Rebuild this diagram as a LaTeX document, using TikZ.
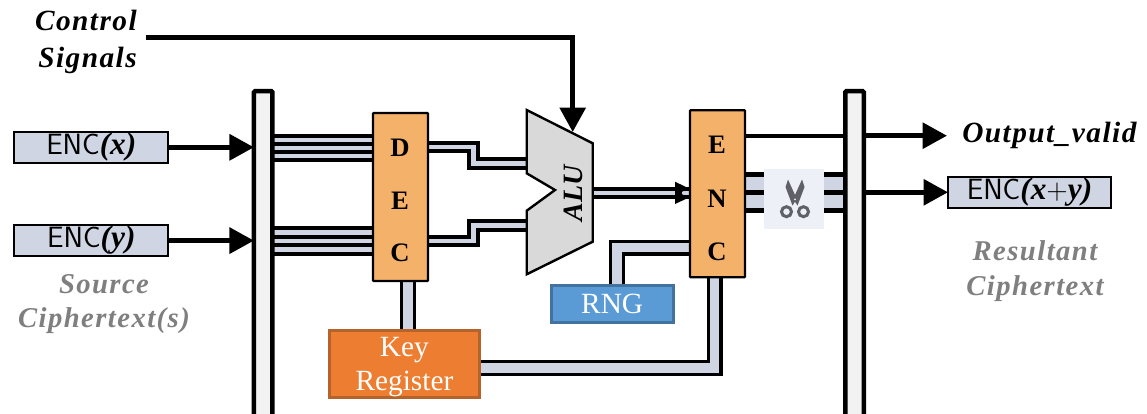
\documentclass[tikz,border=0pt]{standalone}
\usepackage{fontspec}
\setmainfont{Liberation Serif}
\newfontfamily\lblfamily[LetterSpace=5]{Liberation Serif}
\usetikzlibrary{arrows.meta}
\pgfdeclarelayer{wires}
\pgfsetlayers{wires,main}
\def\px{0.75pt}
\definecolor{wirecol}{HTML}{CFD5E2}
\definecolor{busfill}{HTML}{F2F2F2}
\definecolor{decfill}{HTML}{F4B16A}
\definecolor{alufill}{HTML}{D9D9D9}
\definecolor{rngfill}{HTML}{5B9BD5}
\definecolor{rngline}{HTML}{44729F}
\definecolor{keyfill}{HTML}{ED7D31}
\definecolor{keyline}{HTML}{B5622B}
\definecolor{capgray}{HTML}{7F7F7F}
\definecolor{scisbg}{HTML}{EDF0F7}
\definecolor{scisfg}{HTML}{5F6068}
\newcommand{\vbl}[1]{\textrm{\fontsize{23.5}{23}\selectfont\bfseries\itshape #1}}
\tikzset{
  x=0.75pt,y=-0.75pt,
  boxbase/.style={rectangle,inner sep=0pt,outer sep=0pt,draw=black},
  busbar/.style={boxbase,line width=4.5*\px,fill=busfill,rounded corners=1pt},
  unitbox/.style={boxbase,line width=2.2*\px,fill=decfill,rounded corners=0.5pt},
  cipher/.style={boxbase,line width=2*\px,fill=wirecol,font=\sffamily\fontsize{22}{23}\selectfont},
  unitletter/.style={font=\bfseries\fontsize{20}{22}\selectfont,inner sep=0pt},
  whitebox/.style={boxbase,line width=2.6*\px,text=white,align=center,font=\fontsize{22}{25.5}\selectfont},
  smallwire/.style={line width=4*\px,double=wirecol,double distance=4.3*\px,line join=miter},
  midwire/.style={line width=3.2*\px,double=wirecol,double distance=9.6*\px,line join=miter},
  widewire/.style={line width=5*\px,double=wirecol,double distance=13.3*\px},
  sig/.style={line width=4.8*\px,-{Triangle[length=24.5*\px,width=25.5*\px]}},
  caption/.style={align=center,inner sep=0pt,text=capgray,font=\lblfamily\bfseries\itshape\fontsize{21.5}{26}\selectfont},
  blacklabel/.style={inner sep=0pt,text=black,font=\lblfamily\bfseries\itshape\fontsize{22}{27.75}\selectfont},
}
\begin{document}
\begin{tikzpicture}
\clip (0,0) rectangle (1147,414);
% buses and blocks
\node[busbar,minimum width=18.5*\px,minimum height=340*\px] (busL) at (263.2,261) {};
\node[busbar,minimum width=18.5*\px,minimum height=340*\px] (busR) at (854.5,261) {};
\node[cipher,minimum width=154*\px,minimum height=31.5*\px,text height=15.5pt,text depth=4.5pt] (encx) at (91.3,147.3) {ENC\vbl{(x)}};
\node[cipher,minimum width=154*\px,minimum height=31.5*\px,text height=15.5pt,text depth=4.5pt] (ency) at (91.3,240.6) {ENC\vbl{(y)}};
\node[cipher,minimum width=163*\px,minimum height=31.5*\px,text height=15.5pt,text depth=4.5pt] (encr) at (1029.5,192.3) {ENC\vbl{(x}+\vbl{y)}};
\coordinate (aluT) at (526.7,163.5);
\coordinate (aluB) at (526.7,225.5);
\coordinate (aluO) at (592.7,193);
\coordinate (aluC) at (572.7,132);
\coordinate (ctrlS) at (146,37.7);
\coordinate (ovalid) at (947,135.7);
\node[unitbox,minimum width=55*\px,minimum height=168*\px] (dec) at (400.5,197) {};
\node[unitbox,minimum width=55*\px,minimum height=167*\px] (enc) at (717.5,193.8) {};
\node[whitebox,draw=rngline,fill=rngfill,minimum width=122*\px,minimum height=36.5*\px] (rng) at (612.2,304) {RNG};
\node[whitebox,draw=keyline,fill=keyfill,minimum width=150*\px,minimum height=65*\px] (key) at (404.4,363.7) {\rule{0pt}{20pt}Key\\Register};
% wires beneath the blocks
\begin{pgfonlayer}{wires}
\foreach \yy in {139.7,147.8,155.9}{\draw[smallwire] (busL.east |- 0,\yy) -- (dec.west |- 0,\yy);}
\foreach \yy in {232.6,241,249.5}{\draw[smallwire] (busL.east |- 0,\yy) -- (dec.west |- 0,\yy);}
\draw[smallwire] (dec.east |- 0,147.3) -- (473.5,147.3) -- (473.5,163.5) -- (aluT);
\draw[smallwire] (dec.east |- 0,241.2) -- (473.5,241.2) -- (473.5,225.5) -- (aluB);
\draw[smallwire] (aluO) -- (enc.west |- aluO);
\draw[midwire] (407.7,0 |- dec.south) -- (407.7,0 |- key.north);
\draw[midwire] (616.8,0 |- rng.north) -- (616.8,247.5) -- (enc.west |- 0,247.5);
\draw[midwire] (key.east |- 0,367.7) -- (714.5,367.7) -- (714.5,0 |- enc.south);
\draw[widewire] (enc.east |- 0,183.5) -- (busR.west |- 0,183.5);
\draw[widewire] (enc.east |- 0,201.8) -- (busR.west |- 0,201.8);
\draw[line width=4.2*\px] (enc.east |- 0,135.7) -- (busR.west |- 0,135.7);
\end{pgfonlayer}
\node[unitletter] (d1) at (400,147.7) {D};
\node[unitletter] (d2) at (400,201) {E};
\node[unitletter] (d3) at (400,253) {C};
\node[unitletter] (e1) at (717,145) {E};
\node[unitletter] (e2) at (717,199) {N};
\node[unitletter] (e3) at (717,252) {C};
% ALU
\draw[line width=2.4*\px,fill=alufill,line join=miter] (526.7,110) -- (592.7,143.3) -- (592.7,241.7) -- (526.7,274.3) -- (526.7,210.7) -- (555,190) -- (526.7,173.3) -- cycle;
\node[rotate=90,inner sep=0pt,font=\bfseries\itshape\fontsize{21}{22}\selectfont] (alu) at (573,193) {ALU};
% double head into ENC
\fill (675,181.7) -- (689,188.5) -- (675,195) -- cycle;
\fill (675,191) -- (689,197.5) -- (675,204) -- cycle;
\fill (675,190) rectangle (682,196);
% scissors
\node[rectangle,fill=scisbg,minimum width=60*\px,minimum height=60*\px,inner sep=0pt] (scis) at (794,199) {};
\begin{scope}[scisfg]
\fill (788,179.5) -- (785.5,187) -- (792.5,205.5) -- (796.8,199) -- (790.5,185) -- cycle;
\fill (802,179.5) -- (804.5,187) -- (797.5,205.5) -- (793.2,199) -- (799.5,185) -- cycle;
\draw[line width=3*\px] (786.5,211.7) circle[radius=5*\px];
\draw[line width=3*\px] (803.5,211.7) circle[radius=5*\px];
\fill[scisbg] (795,199.3) circle[radius=1*\px];
\end{scope}
% signals
\draw[sig] (encx) -- (busL.west |- encx);
\draw[sig] (ency) -- (busL.west |- ency);
\draw[sig] (busR.east |- ovalid) -- (ovalid);
\draw[sig] (busR.east |- encr) -- (encr.west);
\draw[sig] (ctrlS) -- (aluC |- ctrlS) -- (aluC);
% text
\node[blacklabel,align=right,anchor=east] (ctrl) at (137,42) {Control\\Signals};
\node[blacklabel,anchor=base west] (outv) at (962,142) {Output\_valid};
\node[caption] (src) at (104,304) {Source\\Ciphertext(s)};
\node[caption] (res) at (1035,271) {Resultant\\Ciphertext};
\end{tikzpicture}
\end{document}
